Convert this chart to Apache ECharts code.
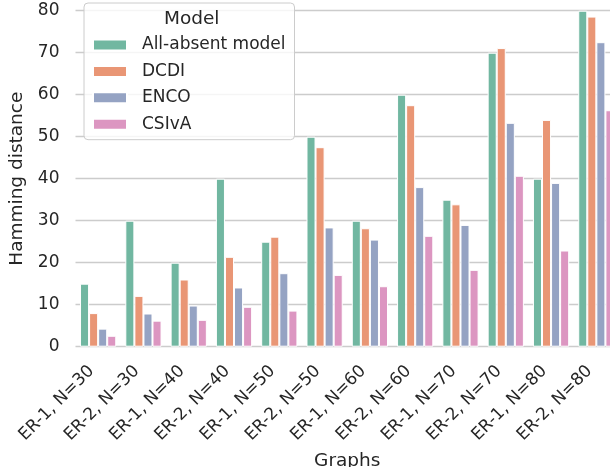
<!DOCTYPE html>
<html>
<head>
<meta charset="utf-8">
<script src="https://cdn.jsdelivr.net/npm/echarts@6/dist/echarts.min.js"></script>
<style>
html,body{margin:0;padding:0;background:#fff;}
#c{width:610px;height:467px;}
</style>
</head>
<body>
<div id="c"></div>
<script>
const categories = ['ER-1, N=30','ER-2, N=30','ER-1, N=40','ER-2, N=40','ER-1, N=50','ER-2, N=50','ER-1, N=60','ER-2, N=60','ER-1, N=70','ER-2, N=70','ER-1, N=80','ER-2, N=80'];
const allAbsent = [15, 30, 20, 40, 25, 50, 30, 60, 35, 70, 40, 80];
const dcdi      = [8.0, 12.1, 16.0, 21.4, 26.2, 47.5, 28.2, 57.5, 33.9, 71.1, 54.0, 78.6];
const enco      = [4.3, 7.9, 9.8, 14.1, 17.5, 28.4, 25.5, 38.0, 29.0, 53.3, 39.0, 72.5];
const csiva     = [2.6, 6.2, 6.4, 9.5, 8.6, 17.1, 14.4, 26.4, 18.3, 40.7, 22.9, 56.3];
const seriesNames = ['All-absent model', 'DCDI', 'ENCO', 'CSIvA'];
const yTicks = [0, 10, 20, 30, 40, 50, 60, 70, 80];

const colors = ['#71b7a1', '#e99675', '#95a3c3', '#dc96c1'];
const font = 'DejaVu Sans';
const txt = '#262626';
const chart = echarts.init(document.getElementById('c'), null, {renderer: 'canvas'});
const data = [allAbsent, dcdi, enco, csiva];
chart.setOption({
  animation: false,
  backgroundColor: '#ffffff',
  color: colors,
  textStyle: {fontFamily: font},
  grid: {left: 75.5, right: -9, top: 10.7, bottom: 120.3, containLabel: false, outerBoundsMode: 'none'},
  legend: {
    orient: 'vertical',
    left: 84, top: 3,
    padding: [33.5, 9, 7, 8],
    itemWidth: 34, itemHeight: 11, itemGap: 9.4,
    icon: 'rect',
    backgroundColor: 'rgba(255,255,255,0.8)',
    borderColor: '#cccccc', borderWidth: 1, borderRadius: 4,
    textStyle: {fontFamily: font, fontSize: 17, color: txt, padding: [0, 0, 0, 10], lineHeight: 17},
    data: seriesNames
  },
  graphic: [{
    type: 'text', x: 191.7, y: 19.5, z: 100,
    style: {text: 'Model', fontFamily: font, fontSize: 18.5, fill: txt, align: 'center', verticalAlign: 'middle'}
  }],
  xAxis: {
    type: 'category',
    data: categories,
    name: 'Graphs', nameLocation: 'middle', nameGap: 105,
    nameTextStyle: {fontFamily: font, fontSize: 18.5, color: txt},
    axisLine: {show: false}, axisTick: {show: false},
    axisLabel: {rotate: 45, fontFamily: font, fontSize: 17, color: txt, margin: 15, interval: 0,
      padding: [0, 9.5, 0, 0]}
  },
  yAxis: {
    type: 'value', min: 0, max: 80, interval: 10,
    name: 'Hamming distance', nameLocation: 'middle', nameGap: 41,
    nameTextStyle: {fontFamily: font, fontSize: 18.5, color: txt},
    axisLine: {show: false}, axisTick: {show: false},
    axisLabel: {fontFamily: font, fontSize: 17, color: txt, margin: 16,
      formatter: v => yTicks.includes(v) ? String(v) : ''},
    splitLine: {show: true, lineStyle: {color: '#cccccc', width: 1.3}}
  },
  series: seriesNames.map((n, i) => ({
    name: n, type: 'bar', data: data[i],
    barGap: '0%', barCategoryGap: '20%',
    itemStyle: {color: colors[i], borderColor: '#ffffff', borderWidth: 1}
  }))
});
</script>
</body>
</html>
